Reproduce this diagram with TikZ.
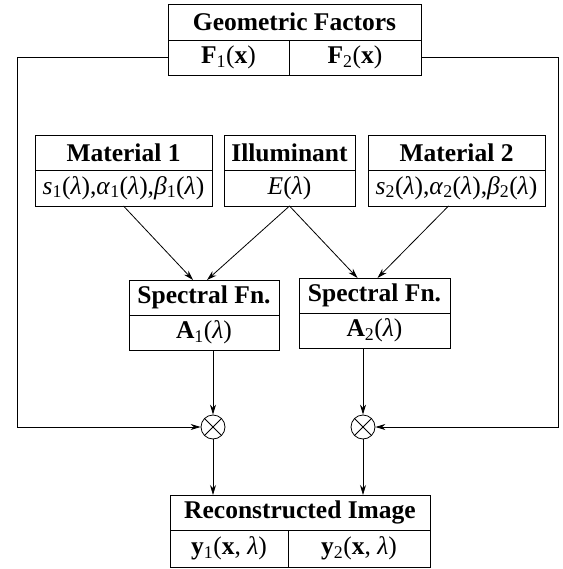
\documentclass[tikz,border=0pt]{standalone}
\usepackage{fontspec}
\setmainfont{Liberation Serif}
\usetikzlibrary{positioning,arrows.meta}
\newcommand{\lam}{\textit{λ}}

\begin{document}
\begin{tikzpicture}[x=1pt, y=-1pt, line width=0.8pt,
  >={Stealth[length=10pt,width=6pt]},
  box/.style={draw, outer sep=0pt, inner sep=0pt, minimum height=35pt,
    font=\fontsize{25.5}{29}\selectfont},
  title/.style={box, font=\fontsize{25.5}{29}\selectfont\bfseries},
  mult/.style={draw, circle, minimum size=24pt, inner sep=0pt,
    path picture={\draw (path picture bounding box.south west) -- (path picture bounding box.north east)
      (path picture bounding box.north west) -- (path picture bounding box.south east);}}]
\useasboundingbox (0,0) rectangle (562,569);
% geometric factors
\node[title, minimum width=253pt, minimum height=36pt] (geo) at (294.5,22) {Geometric Factors};
\node[box, minimum width=121pt, anchor=north west] (F1) at (geo.south west) {\textbf{F}\textsubscript{1}(\textbf{x})};
\node[box, minimum width=132pt, right=0pt of F1] (F2) {\textbf{F}\textsubscript{2}(\textbf{x})};
% inputs
\node[title, minimum width=177pt] (mat1) at (123.5,152.5) {Material 1};
\node[box, minimum width=177pt, minimum height=36pt, below=0pt of mat1] (par1) {\textit{s}\textsubscript{1}(\lam),\textit{α}\textsubscript{1}(\lam),\textit{β}\textsubscript{1}(\lam)};
\node[title, minimum width=131pt] (illum) at (289.5,152.5) {Illuminant};
\node[box, minimum width=131pt, minimum height=36pt, below=0pt of illum] (E) {\textit{E}(\lam)};
\node[title, minimum width=177pt] (mat2) at (456.5,152.5) {Material 2};
\node[box, minimum width=177pt, minimum height=36pt, below=0pt of mat2] (par2) {\textit{s}\textsubscript{2}(\lam),\textit{α}\textsubscript{2}(\lam),\textit{β}\textsubscript{2}(\lam)};
% spectral functions
\node[title, minimum width=150pt] (spec1) at (204,297.5) {Spectral Fn.};
\node[box, minimum width=150pt, below=0pt of spec1] (A1) {\textbf{A}\textsubscript{1}(\lam)};
\node[title, minimum width=151pt] (spec2) at (374.5,295.5) {Spectral Fn.};
\node[box, minimum width=151pt, below=0pt of spec2] (A2) {\textbf{A}\textsubscript{2}(\lam)};
% products
\node[mult] (prod1) at (213,427) {};
\node[mult] (prod2) at (363,427) {};
% output
\node[title, minimum width=260pt] (rec) at (300,512.5) {Reconstructed Image};
\node[box, minimum width=118pt, minimum height=37pt, anchor=north west] (y1) at (rec.south west) {\textbf{y}\textsubscript{1}(\textbf{x}, \lam)};
\node[box, minimum width=142pt, minimum height=37pt, right=0pt of y1] (y2) {\textbf{y}\textsubscript{2}(\textbf{x}, \lam)};

\draw[->] (par1.south) -- ([xshift=-11pt]spec1.north);
\draw[->] (E.south) -- ([xshift=3pt]spec1.north);
\draw[->] (E.south) -- ([xshift=-17pt]spec2.north);
\draw[->] ([xshift=-8pt]par2.south) -- ([xshift=3pt]spec2.north);
\draw[->] (A1.south -| prod1) -- (prod1);
\draw[->] (A2.south -| prod2) -- (prod2);
\draw[->] (prod1) -- (prod1 |- rec.north);
\draw[->] (prod2) -- (prod2 |- rec.north);
\draw[->] (F1.west) -- ++(-151,0) |- (prod1);
\draw[->] (F2.east) -- ++(137,0) |- (prod2);
\end{tikzpicture}
\end{document}
